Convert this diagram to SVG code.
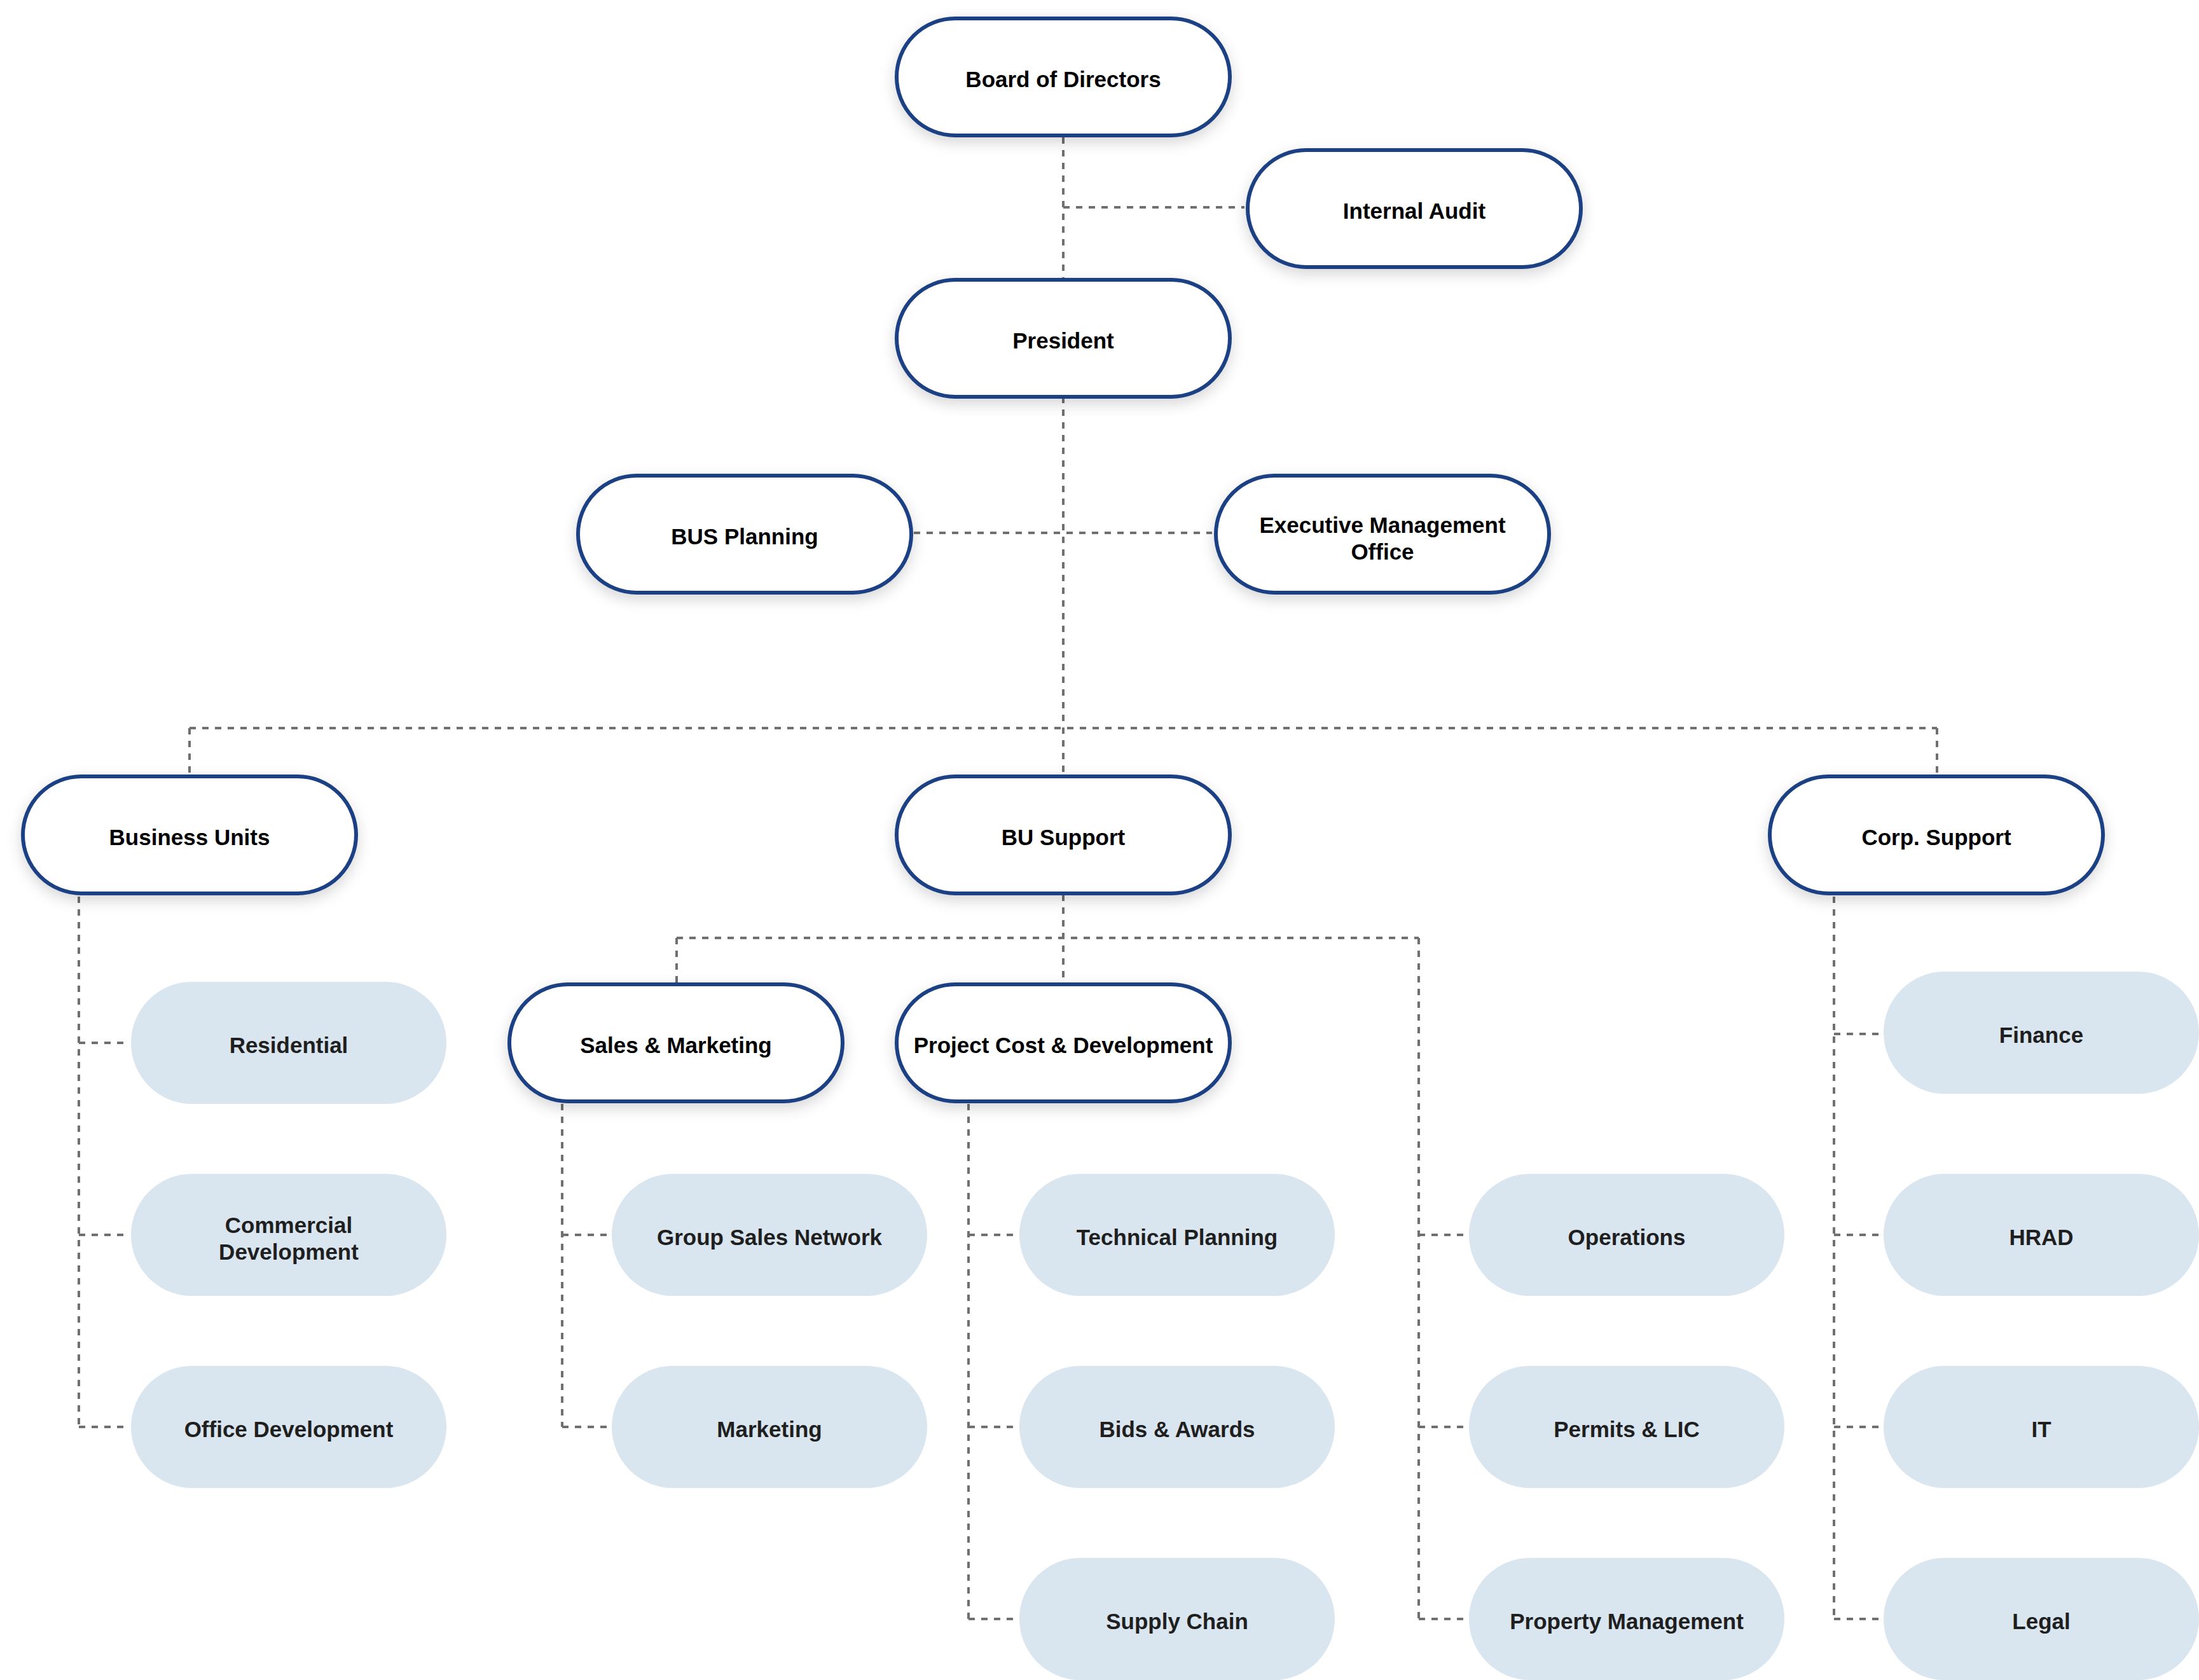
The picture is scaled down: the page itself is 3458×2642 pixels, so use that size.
<svg xmlns="http://www.w3.org/2000/svg" width="3458" height="2642" viewBox="0 0 3458 2642">
<defs>
<filter id="sh" x="-20%" y="-40%" width="140%" height="190%">
<feDropShadow dx="0" dy="8" stdDeviation="11" flood-color="#000" flood-opacity="0.16"/>
</filter>
<style>
.dark{fill:#fff;stroke:#1b3f84;stroke-width:6;filter:url(#sh)}
.light{fill:#d9e5ef;stroke:none}
.t{font-family:"Liberation Sans",Arial,sans-serif;font-weight:bold;font-size:35px;text-anchor:middle;fill:#000}
.lt{fill:#1f1f1f}
.c{stroke:#707070;stroke-width:4;stroke-dasharray:10 10;fill:none}
</style>
</defs>
<rect width="3458" height="2642" fill="#fff"/>
<g id="connectors">
<line class="c" x1="1672" y1="216" x2="1672" y2="440"/>
<line class="c" x1="1672" y1="326" x2="1957" y2="326"/>
<line class="c" x1="1672" y1="624" x2="1672" y2="1220"/>
<line class="c" x1="1437" y1="838" x2="1906" y2="838"/>
<line class="c" x1="298" y1="1145" x2="3046" y2="1145"/>
<line class="c" x1="298" y1="1145" x2="298" y2="1220"/>
<line class="c" x1="3046" y1="1145" x2="3046" y2="1220"/>
<line class="c" x1="1672" y1="1407" x2="1672" y2="1546"/>
<line class="c" x1="1064" y1="1475" x2="2231" y2="1475"/>
<line class="c" x1="1064" y1="1475" x2="1064" y2="1546"/>
<line class="c" x1="124" y1="1410" x2="124" y2="2244"/>
<line class="c" x1="124" y1="1640" x2="204" y2="1640"/>
<line class="c" x1="124" y1="1942" x2="204" y2="1942"/>
<line class="c" x1="124" y1="2244" x2="204" y2="2244"/>
<line class="c" x1="884" y1="1736" x2="884" y2="2244"/>
<line class="c" x1="884" y1="1942" x2="960" y2="1942"/>
<line class="c" x1="884" y1="2244" x2="960" y2="2244"/>
<line class="c" x1="1523" y1="1736" x2="1523" y2="2546"/>
<line class="c" x1="1523" y1="1942" x2="1601" y2="1942"/>
<line class="c" x1="1523" y1="2244" x2="1601" y2="2244"/>
<line class="c" x1="1523" y1="2546" x2="1601" y2="2546"/>
<line class="c" x1="2231" y1="1475" x2="2231" y2="2546"/>
<line class="c" x1="2231" y1="1942" x2="2308" y2="1942"/>
<line class="c" x1="2231" y1="2244" x2="2308" y2="2244"/>
<line class="c" x1="2231" y1="2546" x2="2308" y2="2546"/>
<line class="c" x1="2884" y1="1410" x2="2884" y2="2546"/>
<line class="c" x1="2884" y1="1626" x2="2960" y2="1626"/>
<line class="c" x1="2884" y1="1942" x2="2960" y2="1942"/>
<line class="c" x1="2884" y1="2244" x2="2960" y2="2244"/>
<line class="c" x1="2884" y1="2546" x2="2960" y2="2546"/>
</g>
<g id="board"><rect class="dark" x="1410" y="29" width="524" height="184" rx="92"/><text class="t" x="1672" y="137">Board of Directors</text></g>
<g id="internal-audit"><rect class="dark" x="1962" y="236" width="524" height="184" rx="92"/><text class="t" x="2224" y="344">Internal Audit</text></g>
<g id="president"><rect class="dark" x="1410" y="440" width="524" height="184" rx="92"/><text class="t" x="1672" y="548">President</text></g>
<g id="bus-planning"><rect class="dark" x="909" y="748" width="524" height="184" rx="92"/><text class="t" x="1171" y="856">BUS Planning</text></g>
<g id="emo"><rect class="dark" x="1912" y="748" width="524" height="184" rx="92"/><text class="t" x="2174" y="838">Executive Management</text><text class="t" x="2174" y="880">Office</text></g>
<g id="business-units"><rect class="dark" x="36" y="1221" width="524" height="184" rx="92"/><text class="t" x="298" y="1329">Business Units</text></g>
<g id="bu-support"><rect class="dark" x="1410" y="1221" width="524" height="184" rx="92"/><text class="t" x="1672" y="1329">BU Support</text></g>
<g id="corp-support"><rect class="dark" x="2783" y="1221" width="524" height="184" rx="92"/><text class="t" x="3045" y="1329">Corp. Support</text></g>
<g id="sales-marketing"><rect class="dark" x="801" y="1548" width="524" height="184" rx="92"/><text class="t" x="1063" y="1656">Sales &amp; Marketing</text></g>
<g id="project-cost"><rect class="dark" x="1410" y="1548" width="524" height="184" rx="92"/><text class="t" x="1672" y="1656">Project Cost &amp; Development</text></g>
<g id="residential"><rect class="light" x="206" y="1544" width="496" height="192" rx="96"/><text class="t lt" x="454" y="1656">Residential</text></g>
<g id="commercial"><rect class="light" x="206" y="1846" width="496" height="192" rx="96"/><text class="t lt" x="454" y="1939">Commercial</text><text class="t lt" x="454" y="1981">Development</text></g>
<g id="office"><rect class="light" x="206" y="2148" width="496" height="192" rx="96"/><text class="t lt" x="454" y="2260">Office Development</text></g>
<g id="group-sales"><rect class="light" x="962" y="1846" width="496" height="192" rx="96"/><text class="t lt" x="1210" y="1958">Group Sales Network</text></g>
<g id="marketing"><rect class="light" x="962" y="2148" width="496" height="192" rx="96"/><text class="t lt" x="1210" y="2260">Marketing</text></g>
<g id="technical"><rect class="light" x="1603" y="1846" width="496" height="192" rx="96"/><text class="t lt" x="1851" y="1958">Technical Planning</text></g>
<g id="bids"><rect class="light" x="1603" y="2148" width="496" height="192" rx="96"/><text class="t lt" x="1851" y="2260">Bids &amp; Awards</text></g>
<g id="supply"><rect class="light" x="1603" y="2450" width="496" height="192" rx="96"/><text class="t lt" x="1851" y="2562">Supply Chain</text></g>
<g id="operations"><rect class="light" x="2310" y="1846" width="496" height="192" rx="96"/><text class="t lt" x="2558" y="1958">Operations</text></g>
<g id="permits"><rect class="light" x="2310" y="2148" width="496" height="192" rx="96"/><text class="t lt" x="2558" y="2260">Permits &amp; LIC</text></g>
<g id="property"><rect class="light" x="2310" y="2450" width="496" height="192" rx="96"/><text class="t lt" x="2558" y="2562">Property Management</text></g>
<g id="finance"><rect class="light" x="2962" y="1528" width="496" height="192" rx="96"/><text class="t lt" x="3210" y="1640">Finance</text></g>
<g id="hrad"><rect class="light" x="2962" y="1846" width="496" height="192" rx="96"/><text class="t lt" x="3210" y="1958">HRAD</text></g>
<g id="it"><rect class="light" x="2962" y="2148" width="496" height="192" rx="96"/><text class="t lt" x="3210" y="2260">IT</text></g>
<g id="legal"><rect class="light" x="2962" y="2450" width="496" height="192" rx="96"/><text class="t lt" x="3210" y="2562">Legal</text></g>
</svg>
